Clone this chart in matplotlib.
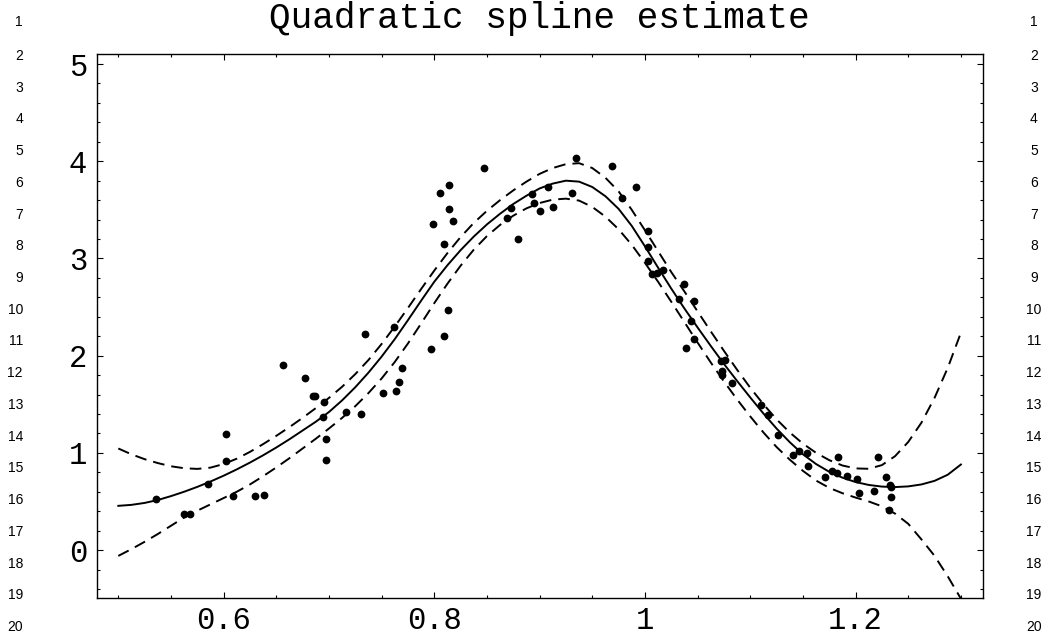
import numpy as np
import matplotlib.pyplot as plt

# observed data (x, y)
pts_x = [0.5356, 0.5626, 0.568, 0.585, 0.602, 0.6026, 0.609, 0.630, 0.638,
         0.656, 0.677, 0.6848, 0.687, 0.695, 0.6947, 0.697, 0.697, 0.7165,
         0.7305, 0.734, 0.751, 0.762, 0.7635, 0.7667, 0.769, 0.7966, 0.7985,
         0.805, 0.8137, 0.8143, 0.8175, 0.8095, 0.8128, 0.8095, 0.847, 0.869,
         0.873, 0.8794, 0.893, 0.8947, 0.900, 0.908, 0.9124, 0.931, 0.935,
         0.969, 0.978, 0.9914, 1.003, 1.0026, 1.003, 1.007, 1.011, 1.0175,
         1.0375, 1.032, 1.0467, 1.044, 1.047, 1.039, 1.072, 1.0757, 1.073,
         1.0735, 1.0826, 1.110, 1.117, 1.1264, 1.1406, 1.146, 1.154, 1.1547,
         1.1705, 1.178, 1.1826, 1.1835, 1.1914, 1.2016, 1.203, 1.2175, 1.2216,
         1.229, 1.2324, 1.2333, 1.234, 1.2318]
pts_y = [0.525, 0.367, 0.37, 0.68, 1.19, 0.92, 0.56, 0.556, 0.566,
         1.90, 1.77, 1.585, 1.585, 1.526, 1.365, 1.14, 0.926, 1.417,
         1.396, 2.22, 1.62, 2.29, 1.636, 1.73, 1.87, 2.065, 3.357,
         3.676, 3.76, 3.51, 3.385, 3.15, 2.47, 2.20, 3.93, 3.42,
         3.515, 3.20, 3.66, 3.567, 3.49, 3.74, 3.53, 3.67, 4.03,
         3.95, 3.625, 3.73, 3.285, 3.12, 2.97, 2.84, 2.85, 2.88,
         2.74, 2.58, 2.565, 2.356, 2.17, 2.08, 1.94, 1.955, 1.845,
         1.80, 1.715, 1.49, 1.39, 1.18, 0.977, 1.02, 0.995, 0.864,
         0.754, 0.81, 0.795, 0.96, 0.76, 0.727, 0.583, 0.607, 0.96,
         0.754, 0.669, 0.645, 0.549, 0.41]

# spline estimate and its bands, read every 0.0125 from 0.5 to 1.3
grid_x = [0.5, 0.5125, 0.525, 0.5375, 0.55, 0.5625, 0.575, 0.5875,
          0.6, 0.6125, 0.625, 0.6375, 0.65, 0.6625, 0.675, 0.6875,
          0.7, 0.7125, 0.725, 0.7375, 0.75, 0.7625, 0.775, 0.7875,
          0.8, 0.8125, 0.825, 0.8375, 0.85, 0.8625, 0.875, 0.8875,
          0.9, 0.9125, 0.925, 0.9375, 0.95, 0.9625, 0.975, 0.9875,
          1.0, 1.0125, 1.025, 1.0375, 1.05, 1.0625, 1.075, 1.0875,
          1.1, 1.1125, 1.125, 1.1375, 1.15, 1.1625, 1.175, 1.1875,
          1.2, 1.2125, 1.225, 1.2375, 1.25, 1.2625, 1.275, 1.2875, 1.3]
fit_y = [0.455, 0.465, 0.485, 0.515, 0.555, 0.60, 0.65, 0.705,
         0.765, 0.83, 0.90, 0.975, 1.055, 1.14, 1.23, 1.32,
         1.42, 1.54, 1.675, 1.825, 1.99, 2.17, 2.365, 2.565,
         2.76, 2.93, 3.085, 3.225, 3.35, 3.46, 3.56, 3.645,
         3.72, 3.77, 3.80, 3.79, 3.735, 3.64, 3.51, 3.335,
         3.125, 2.905, 2.69, 2.485, 2.29, 2.10, 1.915, 1.74,
         1.57, 1.405, 1.25, 1.11, 0.985, 0.885, 0.805, 0.745,
         0.70, 0.67, 0.653, 0.648, 0.655, 0.675, 0.712, 0.775, 0.88]
upper_y = [1.045, 0.985, 0.935, 0.895, 0.862, 0.842, 0.835, 0.848,
           0.885, 0.94, 1.01, 1.09, 1.175, 1.265, 1.36, 1.46,
           1.565, 1.68, 1.81, 1.955, 2.12, 2.30, 2.49, 2.685,
           2.875, 3.055, 3.22, 3.365, 3.49, 3.60, 3.70, 3.79,
           3.87, 3.93, 3.97, 3.98, 3.93, 3.83, 3.69, 3.50,
           3.29, 3.075, 2.86, 2.66, 2.455, 2.25, 2.05, 1.855,
           1.67, 1.50, 1.345, 1.21, 1.095, 1.00, 0.925, 0.87,
           0.84, 0.836, 0.874, 0.966, 1.112, 1.31, 1.566, 1.874, 2.236]
lower_y = [-0.06, 0.01, 0.085, 0.165, 0.25, 0.335, 0.405, 0.47,
           0.535, 0.60, 0.675, 0.76, 0.85, 0.945, 1.045, 1.145,
           1.25, 1.36, 1.48, 1.615, 1.765, 1.935, 2.125, 2.33,
           2.54, 2.74, 2.925, 3.09, 3.23, 3.345, 3.44, 3.515,
           3.57, 3.605, 3.615, 3.595, 3.53, 3.43, 3.30, 3.14,
           2.955, 2.76, 2.555, 2.345, 2.135, 1.93, 1.735, 1.55,
           1.375, 1.21, 1.06, 0.93, 0.815, 0.715, 0.64, 0.585,
           0.54, 0.50, 0.45, 0.375, 0.27, 0.11, -0.06, -0.27, -0.50]

xticks = [0.6, 0.8, 1.0, 1.2]
xtick_labels = ['0.6', '0.8', '1', '1.2']
yticks = [0, 1, 2, 3, 4, 5]
ytick_labels = ['0', '1', '2', '3', '4', '5']
line_nums = list(range(1, 21))

mono = 'Liberation Mono'

fig = plt.figure(figsize=(10.48, 6.4), dpi=100)
W, H = 1048.0, 640.0
ax = fig.add_axes([96.7 / W, 1 - 597.7 / H, (982.7 - 96.7) / W, (597.7 - 54.3) / H])

ax.plot(grid_x, fit_y, color='k', lw=1.4)
ax.plot(grid_x, upper_y, color='k', lw=1.4, dashes=(6, 3.6))
ax.plot(grid_x, lower_y, color='k', lw=1.4, dashes=(6, 3.6))
ax.plot(pts_x, pts_y, 'o', color='k', ms=5.6, mew=0)

ax.set_xlim(0.4795, 1.3207)
ax.set_ylim(-0.49, 5.1)

ax.set_xticks(xticks)
ax.set_xticklabels(xtick_labels)
ax.set_xticks(np.arange(0.5, 1.301, 0.05), minor=True)
ax.set_yticks(yticks)
ax.set_yticklabels(ytick_labels)
ax.set_yticks(np.arange(-0.4, 5.01, 0.2), minor=True)

ax.tick_params(which='both', direction='in', top=True, right=True, width=0.8)
ax.tick_params(which='major', length=4)
ax.tick_params(which='minor', length=2)
ax.tick_params(axis='x', pad=6)
ax.tick_params(axis='y', pad=7)
for lab in ax.get_xticklabels() + ax.get_yticklabels():
    lab.set_fontfamily(mono)
    lab.set_fontsize(22)
for sp in ax.spines.values():
    sp.set_linewidth(1.0)

fig.text(539.7 / W, 1 - 18 / H, 'Quadratic spline estimate', family=mono,
         fontsize=26, ha='center', va='center')

# line numbers in the page margins
for n in line_nums:
    yy = 22.5 if n == 1 else 56 + (n - 2) * 31.72
    fig.text(23 / W, 1 - yy / H, str(n), family='Liberation Sans', fontsize=10,
             ha='right', va='center')
    fig.text(1034 / W, 1 - yy / H, str(n), family='Liberation Sans', fontsize=10,
             ha='center', va='center')

fig.savefig('out.png', dpi=100)
